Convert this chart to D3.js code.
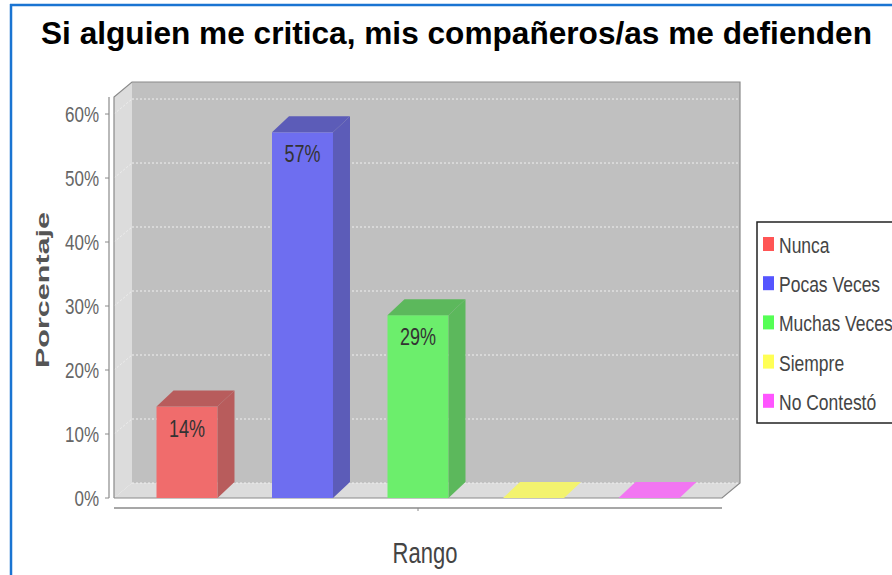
<!DOCTYPE html>
<html>
<head>
<meta charset="utf-8">
<title>Si alguien me critica</title>
<script src="https://d3js.org/d3.v7.min.js"></script>
<style>
  body { margin: 0; background: #fff; }
  text { font-family: "Liberation Sans", Arial, sans-serif; }
</style>
</head>
<body>
<svg width="892" height="575"></svg>
<script>
// data
var categories = ["Nunca", "Pocas Veces", "Muchas Veces", "Siempre", "No Contestó"];
var values = [14.29, 57.14, 28.57, 0, 0];
var yTicks = [0, 10, 20, 30, 40, 50, 60];
var frontColors = ["#f06c6c", "#6e6ef0", "#6cee6c", "#f3f36e", "#f276f2"];
var sideColors = ["#b85c5c", "#5c5cb8", "#5cb85c", "#b8b85c", "#b85cb8"];
var legendColors = ["#ff5555", "#5555ff", "#55ff55", "#ffff55", "#ff55ff"];

var svg = d3.select("svg");

// outer blue frame
svg.append("line").attr("x1", 11).attr("y1", 4).attr("x2", 11).attr("y2", 575)
  .attr("stroke", "#1a74d2").attr("stroke-width", 2.5);
svg.append("line").attr("x1", 10).attr("y1", 5).attr("x2", 892).attr("y2", 5)
  .attr("stroke", "#1a74d2").attr("stroke-width", 2.5);

function label(s, x, y, size, sy, opts) {
  opts = opts || {};
  var t = svg.append("text")
    .attr("transform", "translate(" + x + "," + y + ")" + (opts.rot ? " rotate(-90)" : "") + " scale(1," + sy + ")")
    .attr("font-size", size)
    .attr("fill", opts.fill || "#555")
    .attr("font-weight", opts.bold ? "bold" : null)
    .attr("text-anchor", opts.anchor || "start")
    .text(s);
  if (opts.len) t.attr("textLength", opts.len).attr("lengthAdjust", "spacingAndGlyphs");
  return t;
}

// title
label("Si alguien me critica, mis compañeros/as me defienden", 41, 44, 24, 1.32,
  { bold: true, fill: "#000", len: 831 });

// plot geometry
var x0 = 114, x1 = 722, yBase = 498;
var wdx = 18, wdy = -15;   // wall depth
var bdx = 17, bdy = -16;   // bar depth

var y = d3.scaleLinear().domain([0, 62.66]).range([yBase, 97]);
var x = d3.scaleBand().domain(categories).range([x0, x1])
  .paddingInner(0.472).paddingOuter(0.368);

var yTop = y(62.66);

// back wall
svg.append("rect").attr("x", x0 + wdx).attr("y", yTop + wdy)
  .attr("width", x1 - x0).attr("height", yBase - yTop)
  .attr("fill", "#c0c0c0");
// left wall
svg.append("polygon")
  .attr("points", [[x0, yTop], [x0 + wdx, yTop + wdy], [x0 + wdx, yBase + wdy], [x0, yBase]].join(" "))
  .attr("fill", "#dcdcdc");
// floor
svg.append("polygon")
  .attr("points", [[x0, yBase], [x0 + wdx, yBase + wdy], [x1 + wdx, yBase + wdy], [x1, yBase]].join(" "))
  .attr("fill", "#dcdcdc");

// gridlines
svg.selectAll(".grid").data(yTicks).enter().append("line")
  .attr("x1", x0 + wdx).attr("x2", x1 + wdx)
  .attr("y1", function(d) { return y(d) + wdy; })
  .attr("y2", function(d) { return y(d) + wdy; })
  .attr("stroke", "#f0f0f0").attr("stroke-width", 1)
  .attr("stroke-dasharray", "2,2");
svg.selectAll(".gridl").data(yTicks.slice(1)).enter().append("line")
  .attr("x1", x0).attr("x2", x0 + wdx)
  .attr("y1", function(d) { return y(d); })
  .attr("y2", function(d) { return y(d) + wdy; })
  .attr("stroke", "#eeeeee").attr("stroke-width", 1)
  .attr("stroke-dasharray", "2,2");

// wall outlines
svg.append("polyline")
  .attr("points", [[x0, yBase], [x0, yTop], [x0 + wdx, yTop + wdy], [x1 + wdx, yTop + wdy],
    [x1 + wdx, yBase + wdy], [x1, yBase], [x0, yBase]].join(" "))
  .attr("fill", "none").attr("stroke", "#8a8a8a").attr("stroke-width", 1.2);

// bars
values.forEach(function(v, i) {
  var bx = x(categories[i]), bw = x.bandwidth(), yv = y(v);
  if (v > 0) {
    svg.append("rect").attr("x", bx).attr("y", yv).attr("width", bw).attr("height", yBase - yv)
      .attr("fill", frontColors[i]);
    svg.append("polygon")
      .attr("points", [[bx + bw, yv], [bx + bw + bdx, yv + bdy], [bx + bw + bdx, yBase + bdy], [bx + bw, yBase]].join(" "))
      .attr("fill", sideColors[i]);
    svg.append("polygon")
      .attr("points", [[bx, yv], [bx + bdx, yv + bdy], [bx + bw + bdx, yv + bdy], [bx + bw, yv]].join(" "))
      .attr("fill", sideColors[i]);
    label(Math.round(v) + "%", bx + bw / 2, yv + 30, 18, 1.3, { anchor: "middle", fill: "#333" });
  } else {
    svg.append("polygon")
      .attr("points", [[bx, yBase], [bx + bdx, yBase + bdy], [bx + bw + bdx, yBase + bdy], [bx + bw, yBase]].join(" "))
      .attr("fill", frontColors[i]);
  }
});

// value axis
svg.append("line").attr("x1", 109).attr("x2", 109).attr("y1", yTop).attr("y2", yBase)
  .attr("stroke", "#8a8a8a").attr("stroke-width", 1.2);
yTicks.forEach(function(t) {
  svg.append("line").attr("x1", 105).attr("x2", 109).attr("y1", y(t)).attr("y2", y(t))
    .attr("stroke", "#8a8a8a");
  label(t + "%", 99, y(t) + 8, 17, 1.3, { anchor: "end", fill: "#666" });
});
label("Porcentaje", 49, 290, 18, 1, { rot: true, bold: true, anchor: "middle", len: 156 });

// category axis
svg.append("line").attr("x1", x0).attr("x2", x1).attr("y1", 508).attr("y2", 508)
  .attr("stroke", "#8a8a8a").attr("stroke-width", 1.5);
svg.append("line").attr("x1", (x0 + x1) / 2).attr("x2", (x0 + x1) / 2).attr("y1", 508).attr("y2", 511)
  .attr("stroke", "#8a8a8a");
label("Rango", 425, 563, 22, 1.3, { anchor: "middle", fill: "#444" });

// legend
svg.append("rect").attr("x", 757).attr("y", 222).attr("width", 200).attr("height", 201)
  .attr("fill", "#fff").attr("stroke", "#222").attr("stroke-width", 1.5);
categories.forEach(function(c, i) {
  var ly = 253 + i * 39.2;
  svg.append("rect").attr("x", 763).attr("y", ly - 16).attr("width", 11).attr("height", 14)
    .attr("fill", legendColors[i]);
  label(c, 779, ly, 17.5, 1.3, { fill: "#444" });
});
</script>
</body>
</html>
